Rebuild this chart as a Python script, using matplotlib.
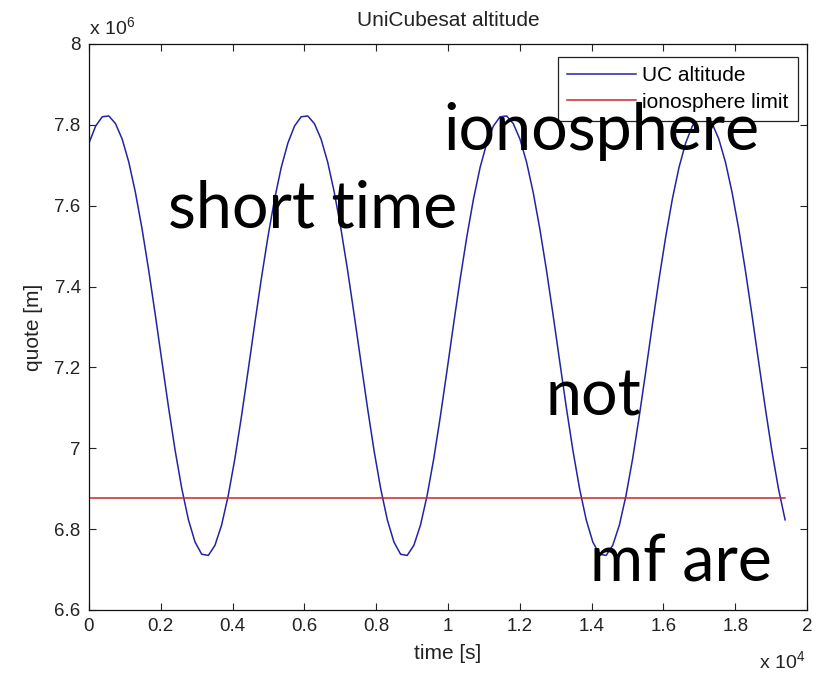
import numpy as np
import matplotlib
matplotlib.use('Agg')
import matplotlib.pyplot as plt
from matplotlib.ticker import MultipleLocator, FuncFormatter

plt.rcParams['font.family'] = 'Liberation Sans'
plt.rcParams['mathtext.default'] = 'regular'

# altitude (units of 1e6 m), one sample every ~184.7 s from t = 0
time_step = 184.667
altitude_e6 = [
    7.755, 7.797, 7.820, 7.822, 7.803, 7.765, 7.708, 7.633, 7.543, 7.441,
    7.330, 7.215, 7.101, 6.994, 6.900, 6.823, 6.768, 6.738,
    6.735, 6.760, 6.810, 6.883, 6.974, 7.079, 7.192, 7.308, 7.420, 7.524,
    7.617, 7.695, 7.755, 7.797, 7.820, 7.822, 7.803, 7.765, 7.708, 7.633,
    7.543, 7.441, 7.330, 7.215, 7.101, 6.994, 6.900, 6.823, 6.768, 6.738,
    6.735, 6.760, 6.810, 6.883, 6.974, 7.079, 7.192, 7.308, 7.420, 7.524,
    7.617, 7.695, 7.755, 7.797, 7.820, 7.822, 7.803, 7.765, 7.708, 7.633,
    7.543, 7.441, 7.330, 7.215, 7.101, 6.994, 6.900, 6.823, 6.768, 6.738,
    6.735, 6.760, 6.810, 6.883, 6.974, 7.079, 7.192, 7.308, 7.420, 7.524,
    7.617, 7.695, 7.755, 7.797, 7.820, 7.822, 7.803, 7.765, 7.708, 7.633,
    7.543, 7.441, 7.330, 7.215, 7.101, 6.994, 6.900, 6.823,
]
ionosphere_limit = 6.878e6  # earth radius + 500 km

# words pasted over the slide
overlay_words = ['short time', 'ionosphere', 'not', 'mf are']

time_s = np.arange(len(altitude_e6)) * time_step
altitude_m = np.array(altitude_e6) * 1e6

W, H = 819, 676
fig = plt.figure(figsize=(W / 100, H / 100), dpi=100)
ax = fig.add_axes([89 / W, 66 / H, 718 / W, 566 / H])

ax.plot(time_s, altitude_m, color='#2323a3', lw=1.1, label='UC altitude')
ax.plot([time_s[0], time_s[-1]], [ionosphere_limit, ionosphere_limit],
        color='#d0232e', lw=1.1, label='ionosphere limit')

ax.set_xlim(0, 2e4)
ax.set_ylim(6.6e6, 8e6)
ax.xaxis.set_major_locator(MultipleLocator(2000))
ax.yaxis.set_major_locator(MultipleLocator(2e5))
ax.xaxis.set_major_formatter(FuncFormatter(lambda v, p: f'{v / 1e4:g}'))
ax.yaxis.set_major_formatter(FuncFormatter(lambda v, p: f'{v / 1e6:g}'))
ax.tick_params(direction='in', length=5, width=0.8, top=True, right=True,
               labelsize=13.5, colors='#222222', pad=6)
for s in ax.spines.values():
    s.set_linewidth(0.9)
    s.set_color('#111111')

ax.set_title('UniCubesat altitude', fontsize=15, color='#222222', pad=13)
ax.set_xlabel('time [s]', fontsize=15, color='#222222', labelpad=6)
ax.set_ylabel('quote [m]', fontsize=15, color='#222222', labelpad=8)

fig.text(89 / W, 1 - 34 / H, r'x 10$^6$', fontsize=14, color='#222222')
fig.text(759 / W, 1 - 668 / H, r'x 10$^4$', fontsize=14, color='#222222')

leg = ax.legend(loc='upper right', bbox_to_anchor=(0.9875, 0.977),
                borderaxespad=0, fancybox=False, framealpha=1,
                edgecolor='#222222', fontsize=15, handlelength=3.3,
                labelspacing=0.35, borderpad=0.45, handletextpad=0.3)
leg.get_frame().set_linewidth(0.9)

# big black words on top of everything
word_pos = [(168, 228), (443, 150), (546, 415), (590, 582)]
for word, (px, py) in zip(overlay_words, word_pos):
    fig.text(px / W, 1 - py / H, word, fontsize=46.5, family='Lato',
             color='black', va='baseline', ha='left', zorder=10)

fig.savefig('out.png', dpi=100, facecolor='white')
